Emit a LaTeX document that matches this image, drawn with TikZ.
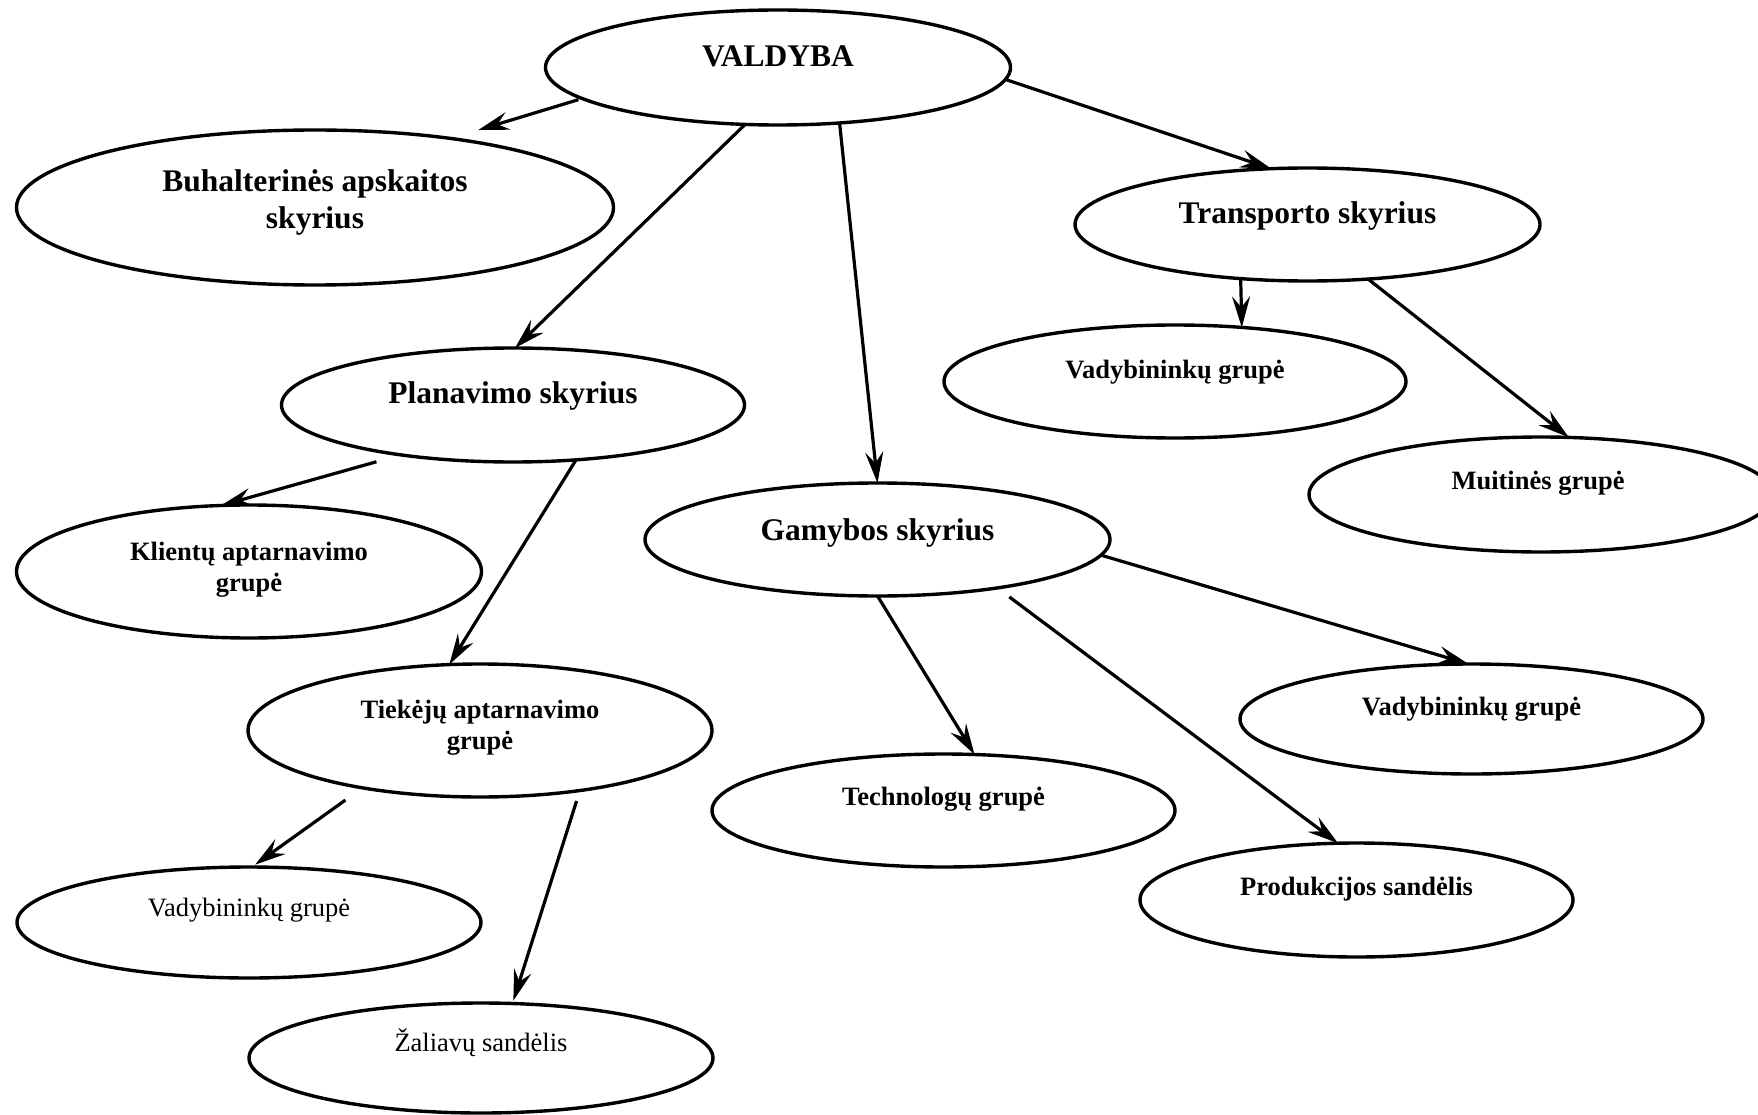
\documentclass[tikz,border=0pt]{standalone}
\usepackage{fontspec}
\setmainfont{Liberation Serif}
\usetikzlibrary{shapes.geometric,arrows.meta}
\begin{document}
\begin{tikzpicture}[x=1pt,y=-1pt,
  unit/.style={ellipse, draw, line width=3.4pt, inner sep=0pt, outer sep=0pt},
  lvl/.style={font=\fontsize{31.5}{36.5}\selectfont\bfseries, anchor=base, align=center, inner sep=0pt},
  grp/.style={font=\fontsize{26.5}{30.5}\selectfont\bfseries, anchor=base, align=center, inner sep=0pt},
  grpn/.style={font=\fontsize{26.5}{30.5}\selectfont, anchor=base, align=center, inner sep=0pt},
  arr/.style={line width=3.2pt, -{Stealth[length=31pt,width=18pt,inset=11pt]}}
]
\useasboundingbox (0,0) rectangle (1758,1115);
\clip (0,0) rectangle (1758,1115);

% organisational units
\node[unit, minimum width=465pt, minimum height=115pt] (valdyba) at (778,67.5) {};
\node[unit, minimum width=597pt, minimum height=155pt] (buh)     at (315,207.5) {};
\node[unit, minimum width=465pt, minimum height=113pt] (transp)  at (1307.5,224.5) {};
\node[unit, minimum width=463pt, minimum height=114pt] (plan)    at (513,405) {};
\node[unit, minimum width=462pt, minimum height=113pt] (trvad)   at (1175,381.5) {};
\node[unit, minimum width=464pt, minimum height=115pt] (muit)    at (1541,494.5) {};
\node[unit, minimum width=465pt, minimum height=133pt] (klient)  at (249,571.5) {};
\node[unit, minimum width=465pt, minimum height=113pt] (gamyb)   at (877.5,539.5) {};
\node[unit, minimum width=464pt, minimum height=133pt] (tiek)    at (480,730.5) {};
\node[unit, minimum width=463pt, minimum height=110pt] (gamvad)  at (1471.5,719) {};
\node[unit, minimum width=463pt, minimum height=113pt] (techn)   at (943.5,810.5) {};
\node[unit, minimum width=464pt, minimum height=111pt] (tiekvad) at (249,922.5) {};
\node[unit, minimum width=464pt, minimum height=110pt] (zal)     at (481,1058) {};
\node[unit, minimum width=433pt, minimum height=114pt] (prod)    at (1356.5,900) {};

% labels (anchored at the baseline of their last line)
\node[lvl] (valdyba-t) at (778,66.7) {VALDYBA};
\node[lvl] (buh-t)     at (315,228.3) {Buhalterinės apskaitos\\skyrius};
\node[lvl] (transp-t)  at (1307.5,224) {Transporto skyrius};
\node[lvl] (plan-t)    at (513,403.3) {Planavimo skyrius};
\node[lvl] (gamyb-t)   at (877.5,540) {Gamybos skyrius};
\node[grp] (trvad-t)   at (1175,378.3) {Vadybininkų grupė};
\node[grp] (muit-t)    at (1538,489.3) {Muitinės grupė};
\node[grp] (klient-t)  at (249,591) {Klientų aptarnavimo\\grupė};
\node[grp] (tiek-t)    at (480,749) {Tiekėjų aptarnavimo\\grupė};
\node[grp] (techn-t)   at (943.5,805) {Technologų grupė};
\node[grp] (gamvad-t)  at (1471.5,715) {Vadybininkų grupė};
\node[grp] (prod-t)    at (1356.5,895) {Produkcijos sandėlis};
\node[grpn] (tiekvad-t) at (249,916.7) {Vadybininkų grupė};
\node[grpn] (zal-t)     at (481,1051.7) {Žaliavų sandėlis};

% subordination arrows
\draw[arr, shorten <=4pt, shorten >=29pt] (valdyba.189.2) -- (buh.27.8);
\draw[arr] (valdyba.240.15) -- (plan.88);
\draw[arr] (valdyba.318.9) -- (gamyb.90.5);
\draw[arr] (valdyba.357.4) -- (transp.123.1);
\draw[arr] (transp.219.15) -- (trvad.39.37);
\draw[arr] (transp.318.72) -- (muit.64);
\draw[arr, shorten <=25.5pt] (plan.204.9) -- (klient.113.6);
\draw[arr] (plan.319.1) -- (tiek.115.7);
\draw[arr] (gamyb.270.5) -- (techn.61.3);
\draw[arr, shorten <=15pt] (gamyb.338.1) -- (prod.108.9);
\draw[arr] (gamyb.356.9) -- (gamvad.93.6);
\draw[arr, shorten <=21pt, shorten >=4pt] (tiek.206.6) -- (tiekvad.87.1);
\draw[arr, shorten <=11pt, shorten >=3pt] (tiek.329.8) -- (zal.60.4);
\end{tikzpicture}
\end{document}
